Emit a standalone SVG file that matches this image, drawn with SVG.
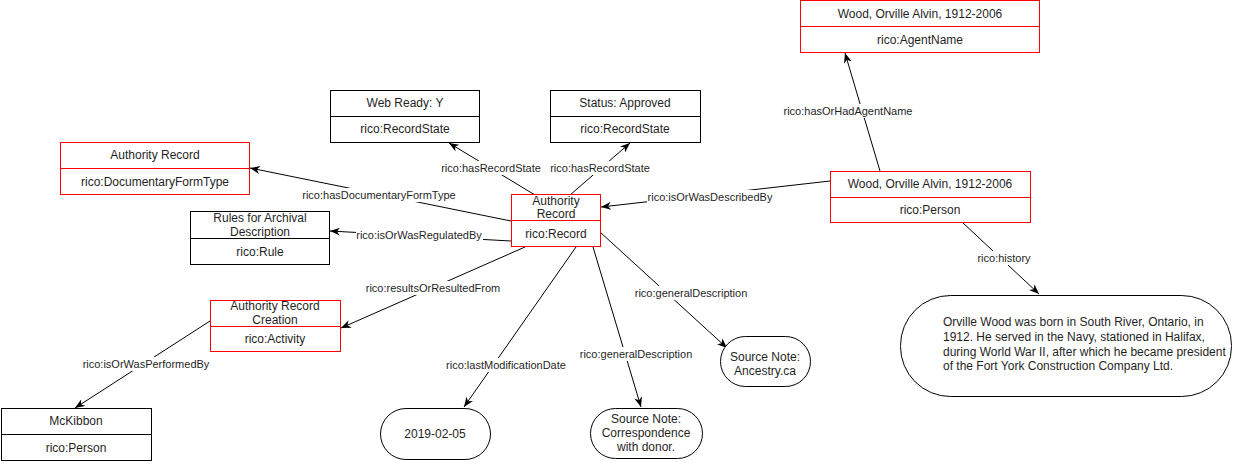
<svg xmlns="http://www.w3.org/2000/svg" width="1236" height="464" viewBox="0 0 1236 464">
  <style>
    .box { fill: #ffffff; stroke-width: 1; }
    .red { stroke: #ff0000; }
    .blk { stroke: #000000; }
    .nt { font-family: "Liberation Sans", Arial, sans-serif; font-size: 12px; fill: #1f1f1f; text-anchor: middle; dominant-baseline: central; }
    .lt { font-family: "Liberation Sans", Arial, sans-serif; font-size: 11px; fill: #1f1f1f; text-anchor: middle; dominant-baseline: central; }
    .edge { stroke: #000000; stroke-width: 1; fill: none; marker-end: url(#arr); }
    .lbg { fill: #ffffff; }
  </style>
  <defs>
    <marker id="arr" viewBox="0 0 10 8" refX="10" refY="4" markerWidth="10" markerHeight="8" orient="auto" markerUnits="userSpaceOnUse">
      <path d="M0,0 L10,4 L0,8 L3,4 Z" fill="#000000"/>
    </marker>
  </defs>
  <rect width="1236" height="464" fill="#ffffff"/>

  <!-- connectors -->
  <g id="connectors">
    <line class="edge" x1="880" y1="171" x2="845" y2="53"/>
    <line class="edge" x1="830" y1="181" x2="601" y2="207"/>
    <line class="edge" x1="535" y1="195" x2="449" y2="143"/>
    <line class="edge" x1="570" y1="195" x2="630" y2="143"/>
    <line class="edge" x1="511" y1="221" x2="250" y2="168"/>
    <line class="edge" x1="511" y1="241" x2="330" y2="231"/>
    <line class="edge" x1="525" y1="247" x2="341" y2="328"/>
    <line class="edge" x1="210" y1="321" x2="75" y2="408"/>
    <line class="edge" x1="576" y1="247" x2="464" y2="407"/>
    <line class="edge" x1="593" y1="247" x2="641" y2="407"/>
    <line class="edge" x1="600" y1="232" x2="727" y2="348"/>
    <line class="edge" x1="962" y1="222" x2="1039" y2="294"/>

    <!-- edge labels -->
    <rect class="lbg" x="783" y="104" width="130" height="14"/>
    <text class="lt" x="848" y="111">rico:hasOrHadAgentName</text>
    <rect class="lbg" x="647" y="190" width="126" height="14"/>
    <text class="lt" x="710" y="197">rico:isOrWasDescribedBy</text>
    <rect class="lbg" x="441" y="161" width="100" height="14"/>
    <text class="lt" x="491" y="168">rico:hasRecordState</text>
    <rect class="lbg" x="550" y="161" width="100" height="14"/>
    <text class="lt" x="600" y="168">rico:hasRecordState</text>
    <rect class="lbg" x="302" y="188" width="155" height="14"/>
    <text class="lt" x="379" y="195">rico:hasDocumentaryFormType</text>
    <rect class="lbg" x="356" y="228" width="127" height="14"/>
    <text class="lt" x="419" y="235">rico:isOrWasRegulatedBy</text>
    <rect class="lbg" x="365" y="281" width="136" height="14"/>
    <text class="lt" x="433" y="288">rico:resultsOrResultedFrom</text>
    <rect class="lbg" x="82" y="357" width="128" height="14"/>
    <text class="lt" x="146" y="364">rico:isOrWasPerformedBy</text>
    <rect class="lbg" x="445" y="358" width="122" height="14"/>
    <text class="lt" x="506" y="365">rico:lastModificationDate</text>
    <rect class="lbg" x="580" y="347" width="112" height="14"/>
    <text class="lt" x="636" y="354">rico:generalDescription</text>
    <rect class="lbg" x="635" y="286" width="112" height="14"/>
    <text class="lt" x="691" y="293">rico:generalDescription</text>
    <rect class="lbg" x="977" y="251" width="54" height="14"/>
    <text class="lt" x="1004" y="258">rico:history</text>
  </g>

  <!-- agent name -->
  <g id="agent-name">
    <rect class="box red" x="800.5" y="0.5" width="239" height="52"/>
    <line x1="800.5" y1="26.5" x2="1039.5" y2="26.5" stroke="#ff0000"/>
    <text class="nt" x="920" y="13.5">Wood, Orville Alvin, 1912-2006</text>
    <text class="nt" x="920" y="40">rico:AgentName</text>
  </g>

  <!-- record state: web ready -->
  <g id="state-web-ready">
    <rect class="box blk" x="330.5" y="90.5" width="149" height="52"/>
    <line x1="330.5" y1="116.5" x2="479.5" y2="116.5" stroke="#000000"/>
    <text class="nt" x="405" y="103">Web Ready: Y</text>
    <text class="nt" x="405" y="129">rico:RecordState</text>
  </g>

  <!-- record state: status -->
  <g id="state-status">
    <rect class="box blk" x="550.5" y="90.5" width="150" height="52"/>
    <line x1="550.5" y1="116.5" x2="700.5" y2="116.5" stroke="#000000"/>
    <text class="nt" x="625" y="103">Status: Approved</text>
    <text class="nt" x="625" y="129">rico:RecordState</text>
  </g>

  <!-- documentary form type -->
  <g id="form-type">
    <rect class="box red" x="60.5" y="142.5" width="189" height="52"/>
    <line x1="60.5" y1="168.5" x2="249.5" y2="168.5" stroke="#ff0000"/>
    <text class="nt" x="155" y="155">Authority Record</text>
    <text class="nt" x="155" y="181.5">rico:DocumentaryFormType</text>
  </g>

  <!-- rule -->
  <g id="rule">
    <rect class="box blk" x="190.5" y="211.5" width="139" height="53"/>
    <line x1="190.5" y1="238.5" x2="329.5" y2="238.5" stroke="#000000"/>
    <text class="nt" x="260" y="218">Rules for Archival</text>
    <text class="nt" x="260" y="232">Description</text>
    <text class="nt" x="260" y="251.5">rico:Rule</text>
  </g>

  <!-- central record -->
  <g id="record">
    <rect class="box red" x="511.5" y="194.5" width="89" height="52"/>
    <line x1="511.5" y1="220.5" x2="600.5" y2="220.5" stroke="#ff0000"/>
    <text class="nt" x="556" y="200.5">Authority</text>
    <text class="nt" x="556" y="214">Record</text>
    <text class="nt" x="556" y="233.5">rico:Record</text>
  </g>

  <!-- person -->
  <g id="person">
    <rect class="box red" x="830.5" y="171.5" width="200" height="51"/>
    <line x1="830.5" y1="197.5" x2="1030.5" y2="197.5" stroke="#ff0000"/>
    <text class="nt" x="930" y="183.5">Wood, Orville Alvin, 1912-2006</text>
    <text class="nt" x="930" y="210">rico:Person</text>
  </g>

  <!-- activity -->
  <g id="activity">
    <rect class="box red" x="210.5" y="300.5" width="130" height="51"/>
    <line x1="210.5" y1="326.5" x2="340.5" y2="326.5" stroke="#ff0000"/>
    <text class="nt" x="275" y="306">Authority Record</text>
    <text class="nt" x="275" y="320">Creation</text>
    <text class="nt" x="275" y="339">rico:Activity</text>
  </g>

  <!-- performer -->
  <g id="performer">
    <rect class="box blk" x="1.5" y="408.5" width="150" height="52"/>
    <line x1="1.5" y1="434.5" x2="151.5" y2="434.5" stroke="#000000"/>
    <text class="nt" x="76" y="421">McKibbon</text>
    <text class="nt" x="76" y="447.5">rico:Person</text>
  </g>

  <!-- modification date -->
  <g id="mod-date">
    <rect class="box blk" x="380.5" y="408.5" width="110" height="51" rx="25.5" ry="25.5"/>
    <text class="nt" x="435" y="434">2019-02-05</text>
  </g>

  <!-- source note: correspondence -->
  <g id="note-correspondence">
    <rect class="box blk" x="590.5" y="408.5" width="112" height="50" rx="25" ry="25"/>
    <text class="nt" x="646" y="419">Source Note:</text>
    <text class="nt" x="646" y="433">Correspondence</text>
    <text class="nt" x="646" y="447">with donor.</text>
  </g>

  <!-- source note: ancestry -->
  <g id="note-ancestry">
    <rect class="box blk" x="720.5" y="336.5" width="90" height="50" rx="25" ry="25"/>
    <text class="nt" x="765" y="357">Source Note:</text>
    <text class="nt" x="765" y="371">Ancestry.ca</text>
  </g>

  <!-- history -->
  <g id="history">
    <rect class="box blk" x="900.5" y="295.5" width="331" height="101" rx="50" ry="50"/>
    <text class="nt" x="943" y="322" style="text-anchor:start">Orville Wood was born in South River, Ontario, in</text>
    <text class="nt" x="943" y="337" style="text-anchor:start">1912. He served in the Navy, stationed in Halifax,</text>
    <text class="nt" x="943" y="351.5" style="text-anchor:start">during World War II, after which he became president</text>
    <text class="nt" x="943" y="366" style="text-anchor:start">of the Fort York Construction Company Ltd.</text>
  </g>
</svg>
